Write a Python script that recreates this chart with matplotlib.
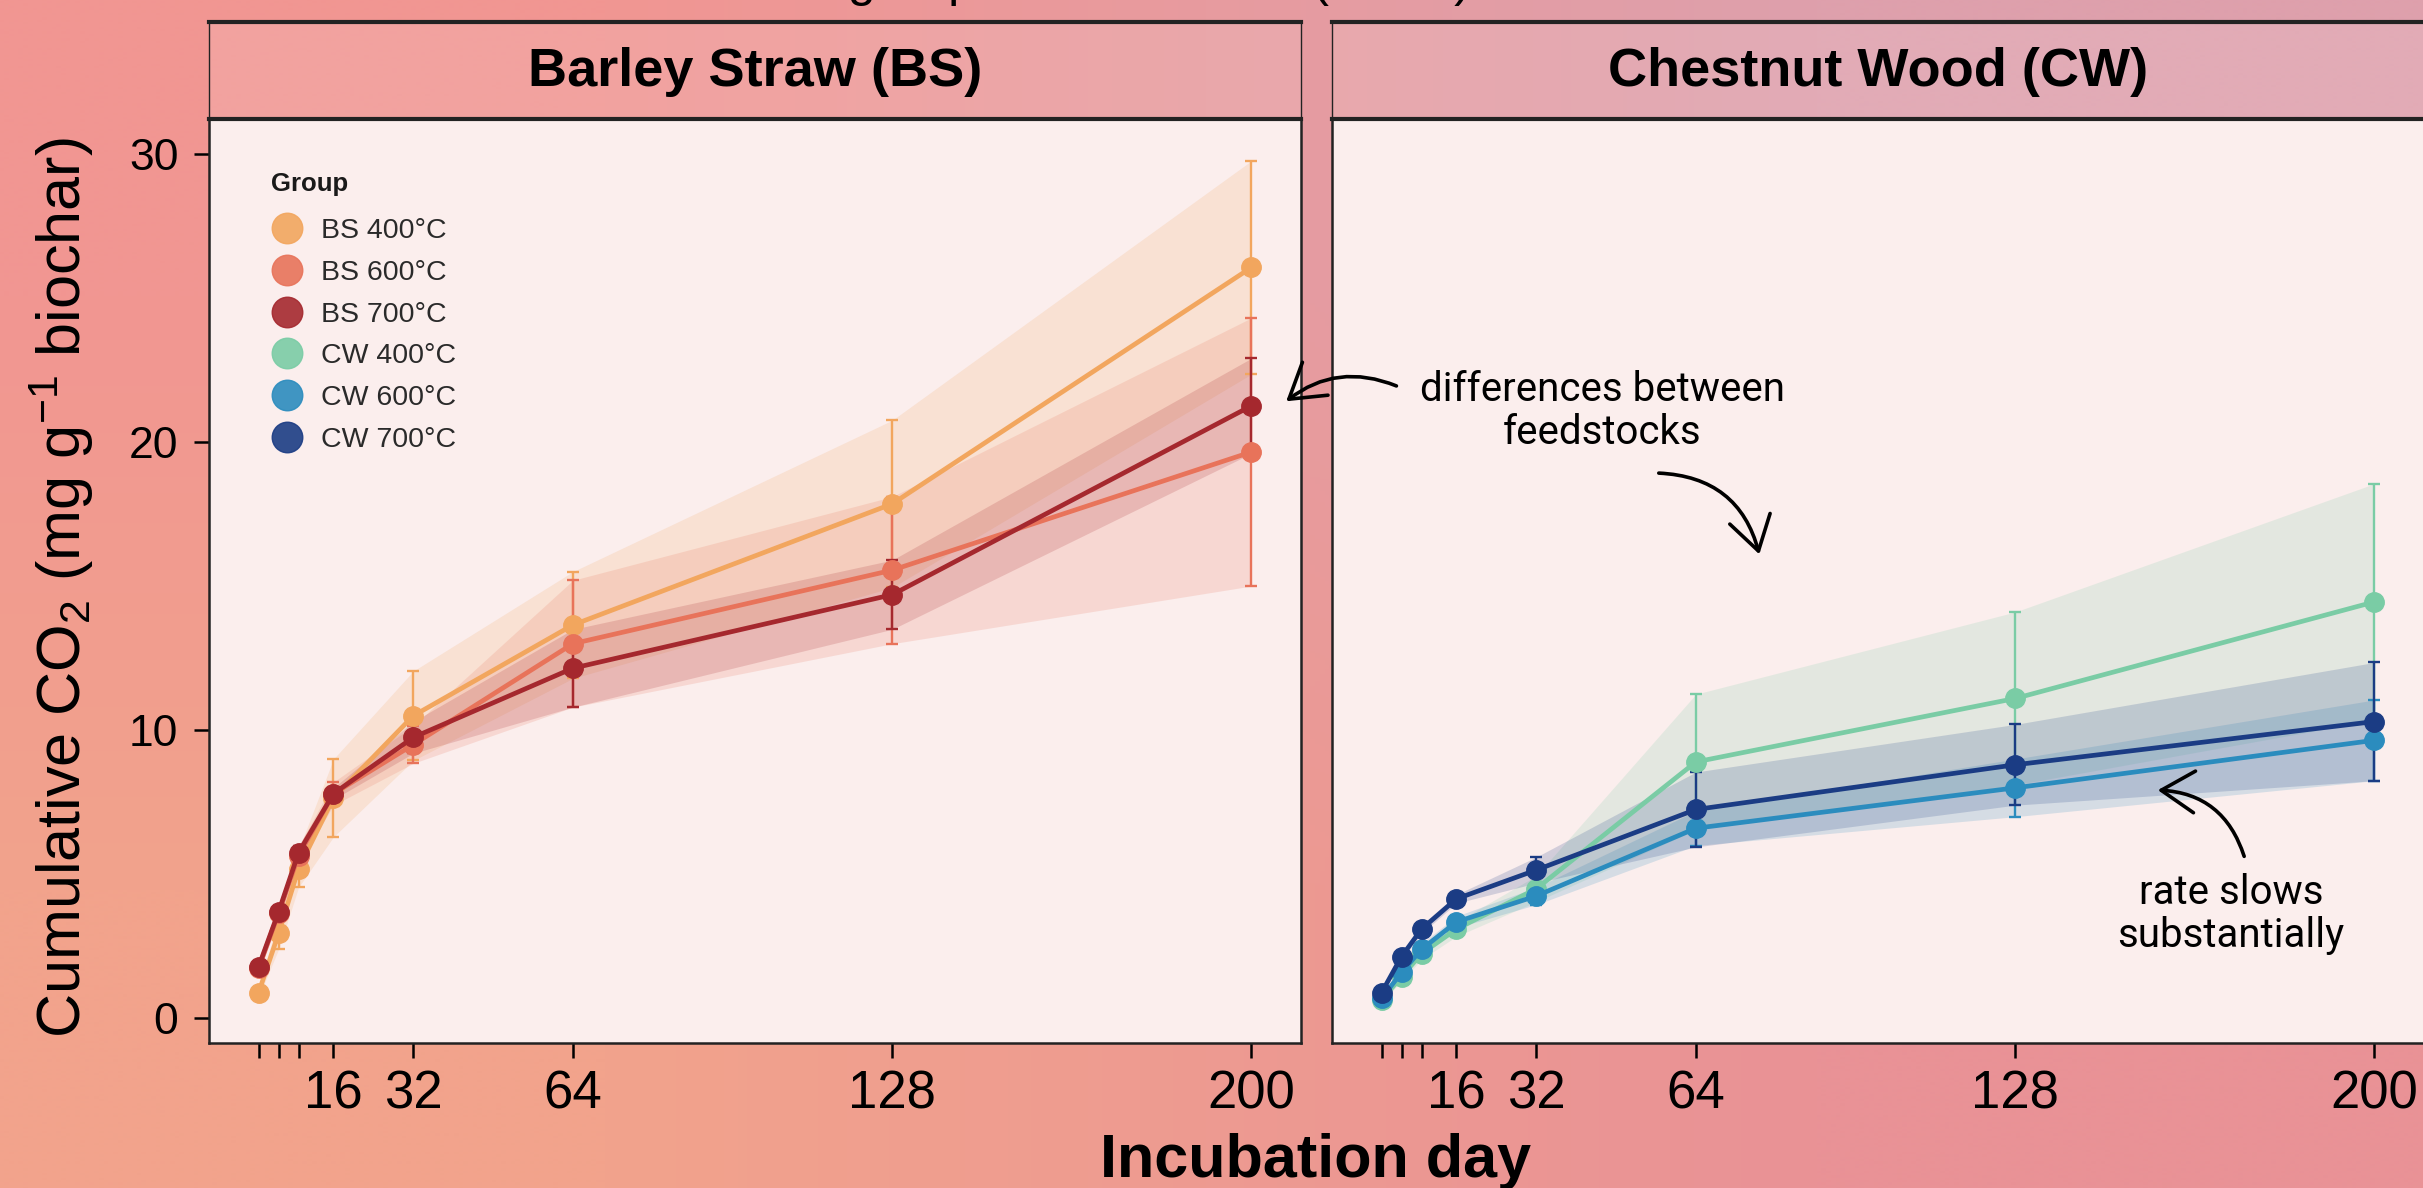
import matplotlib
matplotlib.use("Agg")
import matplotlib.pyplot as plt
import numpy as np
from matplotlib.lines import Line2D
from matplotlib.patches import FancyArrowPatch

plt.rcParams['font.family'] = ['Liberation Sans', 'DejaVu Sans']
plt.rcParams['mathtext.fontset'] = 'custom'
plt.rcParams['mathtext.rm'] = 'Liberation Sans'
plt.rcParams['mathtext.it'] = 'Liberation Sans:italic'
plt.rcParams['mathtext.bf'] = 'Liberation Sans:bold'

# ---------------- data ----------------
days = [1, 5, 9, 16, 32, 64, 128, 200]
x_ticks = [1, 5, 9, 16, 32, 64, 128, 200]
x_tick_labels = ['', '', '', '16', '32', '64', '128', '200']
y_ticks = [0, 10, 20, 30]

groups = ['BS 400°C', 'BS 600°C', 'BS 700°C', 'CW 400°C', 'CW 600°C', 'CW 700°C']
colors = ['#F2A65E', '#E8735A', '#A5282E', '#7ACCA5', '#2B8CBE', '#1B3C84']

bs400_mean = [0.9, 2.95, 5.2, 7.65, 10.5, 13.65, 17.85, 26.05]
bs400_err = [0.15, 0.55, 0.65, 1.35, 1.55, 1.85, 2.9, 3.7]
bs600_mean = [1.75, 3.65, 5.65, 7.8, 9.5, 13.0, 15.55, 19.65]
bs600_err = [0.15, 0.25, 0.3, 0.4, 0.65, 2.2, 2.55, 4.65]
bs700_mean = [1.8, 3.7, 5.75, 7.8, 9.75, 12.15, 14.7, 21.25]
bs700_err = [0.2, 0.2, 0.25, 0.2, 0.55, 1.35, 1.2, 1.65]

cw400_mean = [0.65, 1.45, 2.25, 3.1, 4.5, 8.9, 11.1, 14.45]
cw400_err = [0.1, 0.15, 0.2, 0.25, 0.45, 2.35, 3.0, 4.1]
cw600_mean = [0.7, 1.6, 2.4, 3.35, 4.25, 6.6, 8.0, 9.65]
cw600_err = [0.1, 0.15, 0.2, 0.2, 0.3, 0.6, 1.0, 1.4]
cw700_mean = [0.9, 2.15, 3.1, 4.15, 5.15, 7.25, 8.8, 10.3]
cw700_err = [0.1, 0.1, 0.15, 0.15, 0.45, 1.3, 1.4, 2.05]

panel_titles = ['Barley Straw (BS)', 'Chestnut Wood (CW)']
panel_series = [
    [(bs400_mean, bs400_err, 0), (bs600_mean, bs600_err, 1), (bs700_mean, bs700_err, 2)],
    [(cw400_mean, cw400_err, 3), (cw600_mean, cw600_err, 4), (cw700_mean, cw700_err, 5)],
]

# ---------------- figure ----------------
W, H = 2423, 1188
fig = plt.figure(figsize=(W / 100, H / 100), dpi=100)


def fx(x):
    return x / W


def fy(y):
    return 1 - y / H


# gradient background
bg = fig.add_axes([0, 0, 1, 1], zorder=-10)
grad = np.array([[[241, 150, 146], [222, 160, 172]],
                 [[242, 163, 140], [233, 146, 150]]], dtype=float) / 255
bg.imshow(grad, extent=[0, 1, 0, 1], aspect='auto', interpolation='bilinear')
bg.set_axis_off()

panel_left = [209, 1332]
panel_w = 1092
panel_top, panel_bot = 119, 1043
strip_top = 22

axes = []
for i in range(2):
    ax = fig.add_axes([fx(panel_left[i]), fy(panel_bot), panel_w / W, (panel_bot - panel_top) / H])
    ax.set_facecolor('#FBEEED')
    for (m, e, gi) in panel_series[i]:
        m = np.array(m)
        e = np.array(e)
        ax.fill_between(days, m - e, m + e, color=colors[gi], alpha=0.18, lw=0, zorder=1)
    for (m, e, gi) in panel_series[i]:
        ax.errorbar(days, m, yerr=e, fmt='none', ecolor=colors[gi], elinewidth=1.7,
                    capsize=4, capthick=1.7, zorder=3)
        ax.plot(days, m, color=colors[gi], lw=3.4, marker='o', ms=14,
                mfc=colors[gi], mec=colors[gi], zorder=4)
    ax.set_xlim(-8.95, 209.95)
    ax.set_ylim(-0.85, 31.2)
    ax.set_xticks(x_ticks)
    ax.set_xticklabels(x_tick_labels, fontsize=38)
    ax.tick_params(axis='x', length=11, width=1.8, pad=8, colors='black')
    if i == 0:
        ax.set_yticks(y_ticks)
        ax.set_yticklabels([str(v) for v in y_ticks], fontsize=32)
        ax.tick_params(axis='y', length=11, width=1.8, pad=11)
    else:
        ax.set_yticks([])
    for s in ax.spines.values():
        s.set_linewidth(1.8)
        s.set_color('#222222')
    axes.append(ax)

    # strip
    sax = fig.add_axes([fx(panel_left[i]), fy(panel_top), panel_w / W, (panel_top - strip_top) / H])
    sax.set_facecolor((1, 1, 1, 0.12))
    sax.set_xticks([])
    sax.set_yticks([])
    for k, s in sax.spines.items():
        s.set_color('#222222')
        s.set_linewidth(3.0 if k in ('top', 'bottom') else 1.0)
    sax.text(0.5, 0.48, panel_titles[i], transform=sax.transAxes, ha='center', va='center',
             fontsize=39, fontweight='bold', color='black')

# legend
handles = [Line2D([0], [0], marker='o', ls='none', ms=22, mfc=c, mec=c, alpha=0.9) for c in colors]
leg = axes[0].legend(handles, groups, title='Group', loc='upper left',
                     bbox_to_anchor=(fx(257), fy(158)), bbox_transform=fig.transFigure,
                     frameon=False, fontsize=20.5, title_fontsize=18.5, labelspacing=0.55,
                     handletextpad=0.65, handlelength=1.1, borderpad=0)
leg.get_title().set_fontweight('bold')
leg.get_title().set_color('#1a1a1a')
leg._legend_box.align = 'left'
leg._legend_box.sep = 16
for t in leg.get_texts():
    t.set_color('#2a2a2a')

# axis labels
fig.text(fx(62), fy(588), r'Cumulative CO$_2$ (mg g$^{-1}$ biochar)', rotation=90,
         ha='center', va='center', fontsize=44)
fig.text(fx(1316), fy(1162), 'Incubation day', ha='center', va='center', fontsize=44,
         fontweight='bold')

# title, cut off by the top edge (only descenders show)
fig.text(fx(880), 1 + 4 / H, 'Cumulative CO2 of each group and treatment (mean)',
         ha='center', va='baseline', fontsize=36)

# annotations
ann_font = dict(family=['Roboto', 'DejaVu Sans'], fontweight='normal', fontsize=29, color='black')
fig.text(fx(1602), fy(411), 'differences between\nfeedstocks', ha='center', va='center',
         linespacing=1.1, **ann_font)
fig.text(fx(2231), fy(914), 'rate slows\nsubstantially', ha='center', va='center',
         linespacing=1.1, **ann_font)


def arrow(a, b, rad):
    p = FancyArrowPatch((fx(a[0]), fy(a[1])), (fx(b[0]), fy(b[1])), transform=fig.transFigure,
                        connectionstyle=f'arc3,rad={rad}',
                        arrowstyle='->,head_length=0.8,head_width=0.5',
                        mutation_scale=30, lw=2.6, color='black')
    fig.patches.append(p)


arrow((1399, 387), (1284, 403), 0.3)
arrow((1656, 473), (1760, 557), -0.38)
arrow((2245, 859), (2155, 790), 0.36)

fig.savefig('out.png', dpi=100)
